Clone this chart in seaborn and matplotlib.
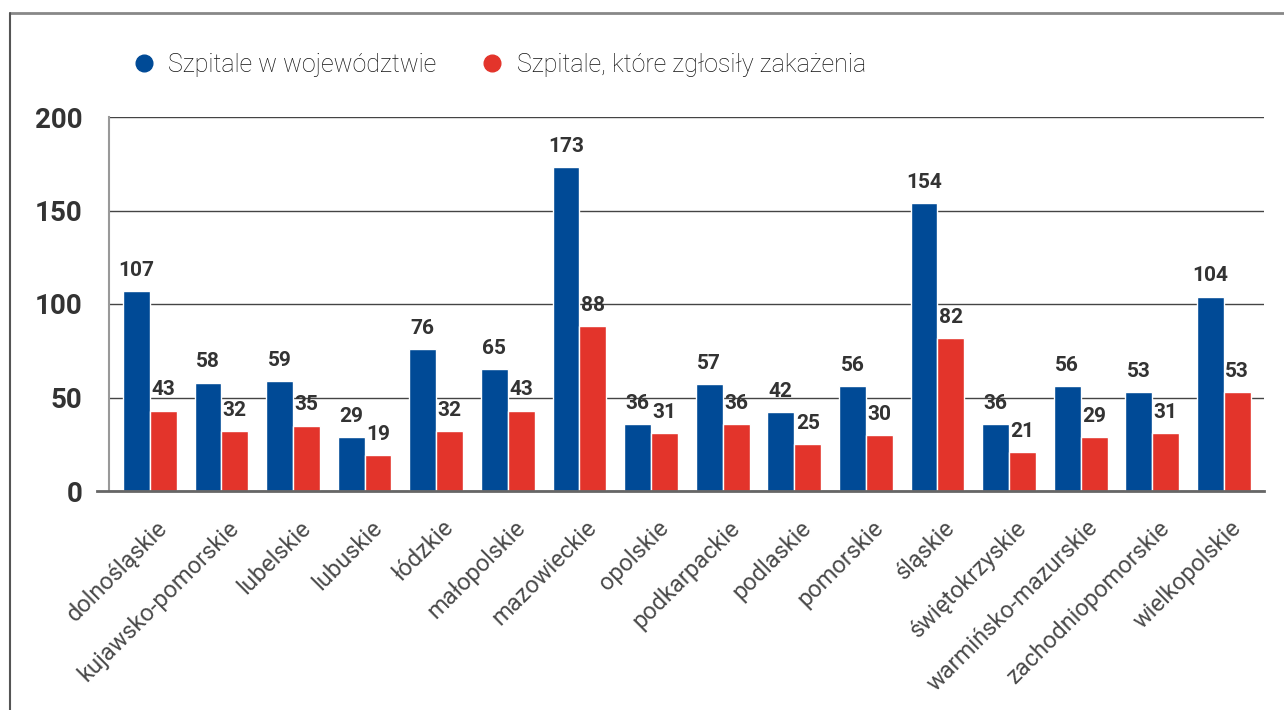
import matplotlib
matplotlib.use("Agg")
import matplotlib.pyplot as plt
import matplotlib.transforms as mtransforms
from matplotlib.lines import Line2D
import seaborn as sns
import pandas as pd

wojewodztwa = ["dolnośląskie", "kujawsko-pomorskie", "lubelskie", "lubuskie", "łódzkie",
               "małopolskie", "mazowieckie", "opolskie", "podkarpackie", "podlaskie",
               "pomorskie", "śląskie", "świętokrzyskie", "warmińsko-mazurskie",
               "zachodniopomorskie", "wielkopolskie"]
szpitale = [107, 58, 59, 29, 76, 65, 173, 36, 57, 42, 56, 154, 36, 56, 53, 104]
zakazenia = [43, 32, 35, 19, 32, 43, 88, 31, 36, 25, 30, 82, 21, 29, 31, 53]
serie = ["Szpitale w województwie", "Szpitale, które zgłosiły zakażenia"]
kolory = ["#004A96", "#E3342B"]
yticks = [0, 50, 100, 150, 200]

df = pd.DataFrame({
    "woj": wojewodztwa * 2,
    "n": szpitale + zakazenia,
    "seria": [serie[0]] * len(wojewodztwa) + [serie[1]] * len(wojewodztwa),
})

sns.set_style("white")
plt.rcParams["font.family"] = ["Roboto", "DejaVu Sans"]

fig = plt.figure(figsize=(12.84, 7.10), dpi=100)
ax = fig.add_axes([109 / 1284, 1 - 491 / 710, (1264 - 109) / 1284, (491 - 117) / 710])

sns.barplot(data=df, x="woj", y="n", hue="seria", palette=kolory, saturation=1,
            width=0.75, gap=0, legend=False, ax=ax)

for cont in ax.containers:
    ax.bar_label(cont, padding=8, fontsize=15, fontweight="bold", color="#333333")

ax.set_ylim(0, 200)
ax.set_xlim(-0.57, 15.56)
ax.set_yticks(yticks)
ax.yaxis.grid(True, color="#444444", linewidth=1)
ax.set_axisbelow(True)
ax.set_xlabel("")
ax.set_ylabel("")

for s in ["top", "right"]:
    ax.spines[s].set_visible(False)
ax.spines["left"].set_color("#999999")
ax.spines["left"].set_linewidth(1.5)
ax.spines["bottom"].set_color("#666666")
ax.spines["bottom"].set_linewidth(2)
ax.spines["bottom"].set_bounds(-0.57 - 12 / 72.2, 15.56)
ax.spines["bottom"].set_clip_on(False)

ax.tick_params(axis="y", length=9, color="#444444", width=1, pad=10,
               labelsize=20, labelcolor="#333333")
for t in ax.get_yticklabels():
    t.set_fontweight("bold")
ax.tick_params(axis="x", length=0, pad=24, labelsize=17, labelcolor="#4a4a4a")
offset = mtransforms.ScaledTranslation(10 / 72, 0, fig.dpi_scale_trans)
for t in ax.get_xticklabels():
    t.set_rotation(45)
    t.set_ha("right")
    t.set_va("center")
    t.set_rotation_mode("anchor")
    t.set_fontweight("normal")
    t.set_transform(t.get_transform() + offset)

# legenda
uchwyty = [Line2D([], [], marker="o", linestyle="", markersize=12, color=k) for k in kolory]
leg = fig.legend(uchwyty, serie, loc="center left", bbox_to_anchor=(96 / 1284, 1 - 65 / 710),
                 ncol=2, frameon=False, handletextpad=0.0, columnspacing=1.2,
                 prop={"size": 18, "weight": "light"}, labelcolor="#111111")

# ramka
fig.add_artist(Line2D([10 / 1284, 1], [1 - 13 / 710, 1 - 13 / 710], color="#888888", linewidth=2))
fig.add_artist(Line2D([10 / 1284, 10 / 1284], [0, 1 - 13 / 710], color="#555555", linewidth=1.5))

fig.savefig("out.png", dpi=100)
